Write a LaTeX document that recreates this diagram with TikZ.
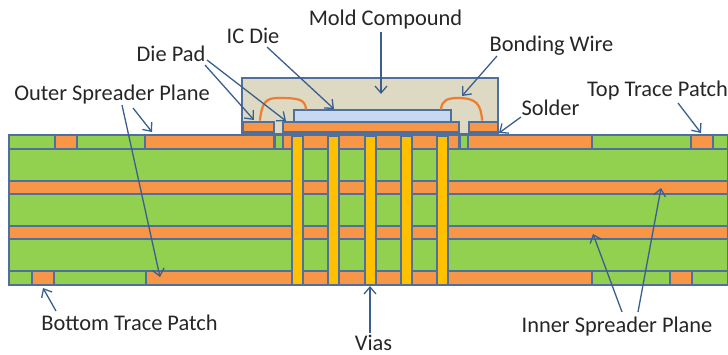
\documentclass[tikz,border=0pt]{standalone}
\usepackage{fontspec}
\setmainfont{Carlito}
\usetikzlibrary{arrows.meta}
\definecolor{lineblue}{HTML}{4F6F9C}
\definecolor{arrowblue}{HTML}{3A5F8F}
\definecolor{boardgreen}{HTML}{92D050}
\definecolor{traceorange}{HTML}{F79646}
\definecolor{viayellow}{HTML}{FFC000}
\definecolor{diefill}{HTML}{C6D9F1}
\definecolor{moldfill}{HTML}{DDD9C3}
\definecolor{wireorange}{HTML}{ED7D31}
\tikzset{
  layer/.style={draw=lineblue,line width=1.4pt},
  thinlayer/.style={draw=lineblue,line width=1.1pt},
  cu/.style={layer,fill=traceorange},
  fr/.style={layer,fill=boardgreen},
  viabar/.style={layer,fill=viayellow},
  padbox/.style={thinlayer,fill=traceorange},
  lbl/.style={font=\fontsize{22.4}{24}\selectfont,inner sep=0pt,text=black!85},
  callout/.style={draw=arrowblue,line width=1.3pt,-{Straight Barb[length=7pt,width=12pt,line width=1.3pt]}},
  wire/.style={draw=wireorange,line width=2.2pt,line cap=round},
}
\begin{document}
\begin{tikzpicture}[x=1pt,y=-1pt]
\useasboundingbox (0,0) rectangle (728,354);
% board
\path[fr] (9,135) rectangle (728,285);
\foreach \a/\b in {9/55,77/145,275/283,460/468,592/691,713/728}
  \path[fr] (\a,135) rectangle (\b,149);
\foreach \a/\b in {55/77,145/274,283/459,468/592,691/713}
  \path[cu] (\a,135) rectangle (\b,149);
\path[cu] (9,181) rectangle (728,194);
\path[cu] (9,226) rectangle (728,239);
\foreach \a/\b in {9/32,54/146,592/670,692/728}
  \path[fr] (\a,271) rectangle (\b,285);
\foreach \a/\b in {32/54,146/592,670/692}
  \path[cu] (\a,271) rectangle (\b,285);
\foreach \a/\b in {292/303,328/339,365/376,401/412,437/448}
  \path[viabar] (\a,136) rectangle (\b,285);
% package
\path[thinlayer,fill=moldfill] (242,78) rectangle (498,134);
\path[padbox] (243,122) rectangle (274,132);
\path[padbox] (469,122) rectangle (498,132);
\path[padbox] (283,122) rectangle (459,132);
\path[thinlayer,fill=diefill] (294,110) rectangle (451,122);
\path[wire] (260,120) .. controls (262,102) and (266,98) .. (278,98) .. controls (298,98) and (305,99) .. (306,109);
\path[wire] (441,109) .. controls (442,100) and (448,98) .. (458,98) .. controls (476,98) and (481,104) .. (482,120);
% labels
\node[lbl] (mold) at (385.5,20) {Mold Compound};
\node[lbl] (icdie) at (253,36) {IC Die};
\node[lbl] (bond) at (551.5,46) {Bonding Wire};
\node[lbl] (pad) at (171,54) {Die Pad};
\node[lbl] (outer) at (112,95) {Outer Spreader Plane};
\node[lbl] (toptrace) at (657.5,91) {Top Trace Patch};
\node[lbl] (solder) at (550.5,108) {Solder};
\node[lbl] (bottrace) at (129.5,323) {Bottom Trace Patch};
\node[lbl] (inner) at (617,327) {Inner Spreader Plane};
\node[lbl] (vias) at (373.5,343) {Vias};
% callout ends
\coordinate (tMold) at (381,94);
\coordinate (tDie) at (334,109);
\coordinate (tPadA) at (254,120);
\coordinate (tPadB) at (286,121);
\coordinate (tWire) at (462,96);
\coordinate (tSolder) at (499,133);
\coordinate (tTop) at (701,133);
\coordinate (tOuterA) at (152,132);
\coordinate (tOuterB) at (160,277);
\coordinate (tBot) at (43,288);
\coordinate (tVias) at (370,286);
\coordinate (tInnerA) at (593,234);
\coordinate (tInnerB) at (661,188);
\coordinate (sMold) at (381,32);
\coordinate (sDie) at (267,47);
\coordinate (sPadA) at (205,65);
\coordinate (sPadB) at (207,60);
\coordinate (sWire) at (497,56);
\coordinate (sSolder) at (521,117);
\coordinate (sTop) at (678,103);
\coordinate (sOuterA) at (133,108);
\coordinate (sOuterB) at (122,105);
\coordinate (sBot) at (56,311);
\coordinate (sVias) at (370,333);
\coordinate (sInnerA) at (622,312);
\coordinate (sInnerB) at (638,312);
\foreach \s/\t in {sMold/tMold,sDie/tDie,sPadA/tPadA,sPadB/tPadB,sWire/tWire,sSolder/tSolder,sTop/tTop,sOuterA/tOuterA,sOuterB/tOuterB,sBot/tBot,sVias/tVias,sInnerA/tInnerA,sInnerB/tInnerB}
  \draw[callout] (\s) -- (\t);
\end{tikzpicture}
\end{document}
